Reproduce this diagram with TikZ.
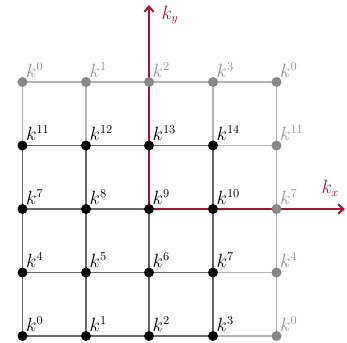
\documentclass[tikz,border=0pt]{standalone}
\usetikzlibrary{arrows.meta}
\definecolor{axred}{RGB}{165,20,50}
\definecolor{dotgray}{RGB}{135,135,135}
\definecolor{lblgray}{RGB}{145,145,145}
\definecolor{darkline}{RGB}{105,105,105}
\definecolor{lightline}{RGB}{180,180,180}
\tikzset{
  lblfont/.style={font=\fontsize{13.5}{15}\selectfont},
  bdot/.style={circle,fill=black,inner sep=0pt,minimum size=7.5pt},
  gdot/.style={circle,fill=dotgray,inner sep=0pt,minimum size=7.5pt},
  blbl/.style={anchor=base west,inner sep=0pt,lblfont},
  glbl/.style={anchor=base west,inner sep=0pt,lblfont,text=lblgray},
  dline/.style={darkline,line width=1pt},
  lline/.style={lightline,line width=1pt},
  axis/.style={axred,line width=1.5pt,-{Straight Barb[length=4pt,width=7pt]}},
}
\begin{document}
\begin{tikzpicture}[x=0.75pt,y=-0.75pt]
\useasboundingbox (0,0) rectangle (347,343);
\def\cA{22.5}\def\cB{86}\def\cC{149}\def\cD{213}\def\cE{276.5}
\def\rA{336}\def\rB{272.5}\def\rC{209}\def\rD{145.5}\def\rE{82}
\foreach \c/\x in {0/\cA,1/\cB,2/\cC,3/\cD,4/\cE}{
  \foreach \r/\y in {0/\rA,1/\rB,2/\rC,3/\rD,4/\rE}{
    \coordinate (n\c\r) at (\x,\y);
  }
}
% light lines (to gray nodes)
\draw[lline] (n04) -- (n14) -- (n24) -- (n34) -- (n44) -- (n43) -- (n42) -- (n41) -- (n40);
\draw[lline] (n03) -- (n04) (n13) -- (n14) (n33) -- (n34);
\draw[lline] (n30) -- (n40) (n31) -- (n41) (n33) -- (n43);
% dark lines
\foreach \r in {0,1,3}{ \draw[dline] (n0\r) -- (n3\r); }
\draw[dline] (n02) -- (n22);
\foreach \c in {0,1,3}{ \draw[dline] (n\c0) -- (n\c3); }
\draw[dline] (n20) -- (n22);
% axes
\coordinate (ytip) at (\cC,5);
\coordinate (xtip) at (345,\rC);
\draw[axis] (n22) -- (ytip);
\draw[axis] (n22) -- (xtip);
\node[text=axred,lblfont,anchor=west] (ky) at (157,15) {$k_y$};
\node[text=axred,lblfont,anchor=west] (kx) at (317,188) {$k_x$};
% black dots & labels
\foreach \c/\r/\k in {0/0/0,1/0/1,2/0/2,3/0/3,
                       0/1/4,1/1/5,2/1/6,3/1/7,
                       0/2/7,1/2/8,2/2/9,3/2/10,
                       0/3/11,1/3/12,2/3/13,3/3/14}{
  \node[bdot] (d\c\r) at (n\c\r) {};
  \node[blbl] (l\c\r) at ([xshift=2.5pt,yshift=3.5pt]n\c\r) {$k^{\k}$};
}
\foreach \c/\r/\k in {0/4/0,1/4/1,2/4/2,3/4/3,4/4/0,4/3/11,4/2/7,4/1/4,4/0/0}{
  \node[gdot] (d\c\r) at (n\c\r) {};
  \node[glbl] (l\c\r) at ([xshift=2.5pt,yshift=3.5pt]n\c\r) {$k^{\k}$};
}
\end{tikzpicture}
\end{document}
